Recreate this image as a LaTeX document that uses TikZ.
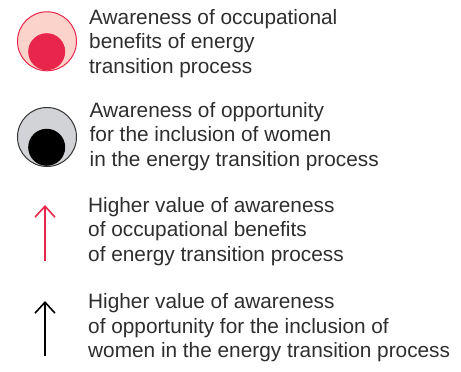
\documentclass[tikz,border=0pt]{standalone}
\usepackage{fontspec}
\setmainfont{Liberation Sans}
\usetikzlibrary{arrows.meta}
\definecolor{legred}{HTML}{E8264B}
\definecolor{legpink}{HTML}{FBD3CB}
\definecolor{leggray}{HTML}{D1D3D6}
\definecolor{legtext}{HTML}{2E2E2E}
\definecolor{legline}{HTML}{333333}
\tikzset{
  legtxt/.style={anchor=base west, inner sep=0pt, text=legtext, font=\fontsize{20.8}{24.5}\selectfont},
  outerc/.style={circle, inner sep=0pt, minimum size=59pt, line width=1pt},
  innerc/.style={circle, inner sep=0pt, minimum size=37pt},
  legarrow/.style={line width=1.6pt, -{Straight Barb[length=11pt,width=20pt,line width=1.6pt]}},
}
\newcommand{\legblock}[1]{\parbox[t]{380pt}{\raggedright #1}}
\begin{document}
\begin{tikzpicture}[x=1pt,y=-1pt]
\useasboundingbox (0,0) rectangle (461,372);
% circle 1
\node[outerc, draw=legred, fill=legpink] (o1) at (47,41.3) {};
\node[innerc, fill=legred] (i1) at (46.7,51.7) {};
% circle 2
\node[outerc, draw=legline, fill=leggray] (o2) at (47,137) {};
\node[innerc, fill=black] (i2) at (46.7,147.3) {};
% arrows
\coordinate (a1s) at (45,261);
\coordinate (a1e) at (45,205);
\draw[legarrow, legred] (a1s) -- (a1e);
\coordinate (a2s) at (45,356);
\coordinate (a2e) at (45,301);
\draw[legarrow, black] (a2s) -- (a2e);
% texts
\node[legtxt] (t1) at (89,24) {\legblock{Awareness of occupational\\benefits of energy\\transition process}};
\node[legtxt] (t2) at (89.5,117) {\legblock{Awareness of opportunity\\for the inclusion of women\\in the energy transition process}};
\node[legtxt] (t3) at (88,212) {\legblock{Higher value of awareness\\of occupational benefits\\of energy transition process}};
\node[legtxt] (t4) at (88,308.5) {\legblock{Higher value of awareness\\of opportunity for the inclusion of\\women in the energy transition process}};
\end{tikzpicture}
\end{document}
